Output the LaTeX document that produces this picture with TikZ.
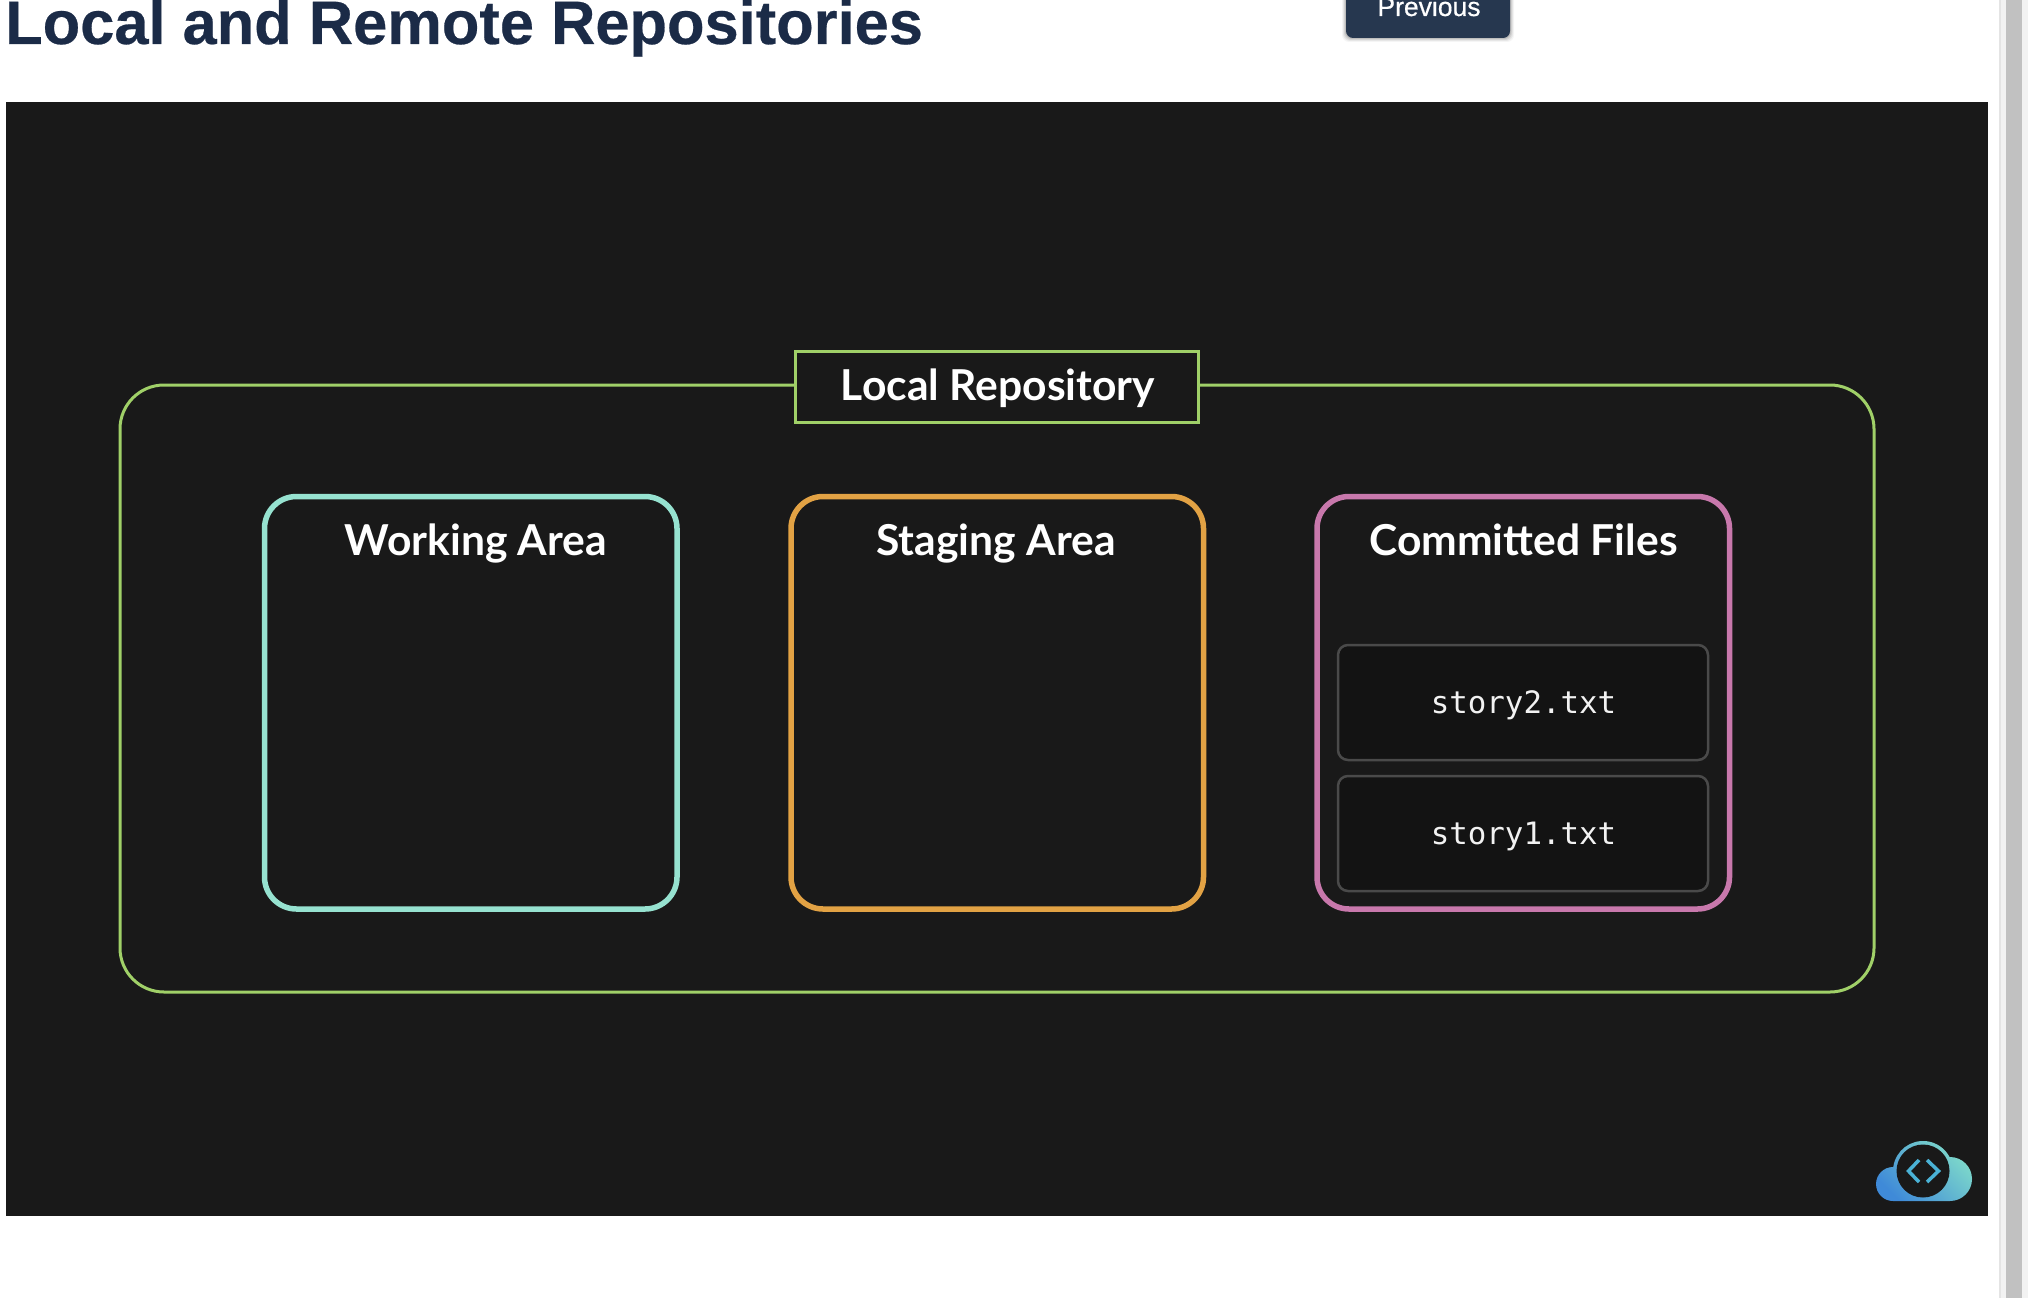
\documentclass[tikz,border=0pt]{standalone}
\usepackage{fontspec}
\setmainfont{Liberation Sans}
\newfontfamily\headfont{Lato}
\newfontfamily\codefont{DejaVu Sans Mono}
\definecolor{panelbg}{HTML}{191919}
\definecolor{filebg}{HTML}{131313}
\definecolor{fileline}{HTML}{4A4A4A}
\definecolor{repogreen}{HTML}{A0D068}
\definecolor{workteal}{HTML}{96E2D0}
\definecolor{stageorange}{HTML}{E2A244}
\definecolor{commitpink}{HTML}{C878AC}
\definecolor{titlenavy}{HTML}{1B2B47}
\definecolor{btnnavy}{HTML}{26374F}
\definecolor{barlight}{HTML}{F2F2F2}
\definecolor{barline}{HTML}{E4E4E4}
\definecolor{bargray}{HTML}{C1C1C1}
\definecolor{logoblue}{HTML}{3F8AD8}
\definecolor{logomid}{HTML}{52B6DC}
\definecolor{logoteal}{HTML}{80DCCA}
\definecolor{logochev}{HTML}{4AB2D6}
\tikzset{
  x=1pt, y=-1pt,
  box/.style={rectangle, inner sep=0pt, outer sep=0pt, anchor=north west},
  outerbox/.style={box, draw=repogreen, line width=3pt, rounded corners=44pt, minimum width=1754pt, minimum height=607pt},
  labelbox/.style={box, draw=repogreen, line width=3pt, fill=panelbg, minimum width=403pt, minimum height=71pt},
  areabox/.style={box, line width=5.5pt, rounded corners=32pt, minimum width=412.5pt, minimum height=412.5pt},
  filebox/.style={box, draw=fileline, line width=2.5pt, fill=filebg, rounded corners=10pt, minimum width=370pt, minimum height=115pt},
  heading/.style={anchor=base, inner sep=0pt, text=white, font=\headfont\bfseries\fontsize{42.6}{42.6}\selectfont},
  code/.style={anchor=base, inner sep=0pt, text=white!95!black, font=\codefont\fontsize{30.8}{30.8}\selectfont},
}
\begin{document}
\begin{tikzpicture}
\useasboundingbox (0,0) rectangle (2028,1298);
\clip (0,0) rectangle (2028,1298);
\fill[white] (0,0) rectangle (2028,1298);
% scrollbar
\fill[barlight] (1999,0) rectangle (2028,1298);
\fill[barline] (1999,0) rectangle (2001,1298);
\fill[bargray] (2006,0) rectangle (2022,1298);
% page title and button
\node[anchor=base west, inner sep=0pt, text=titlenavy, font=\bfseries\fontsize{61.4}{61.4}\selectfont\addfontfeature{FakeBold=0.4}] (title) at (5,44) {Local and Remote Repositories};
\foreach \o/\d in {0.04/4,0.06/3,0.08/2,0.10/1}{
  \fill[black, opacity=\o, rounded corners=7pt] (1346-\d,-20) rectangle (1510+\d,38+\d);
}
\node[box, fill=btnnavy, rounded corners=7pt, minimum width=164pt, minimum height=58pt] (btn) at (1346,-20) {};
\node[anchor=base, inner sep=0pt, text=white, font=\fontsize{26.5}{26.5}\selectfont\addfontfeature{FakeBold=0.5}] (btntext) at (1429,16) {Previous};
% panel
\fill[panelbg] (6,102) rectangle (1988,1216);
\node[outerbox] (repo) at (120,385) {};
\node[labelbox] (repolabel) at (795,351.5) {};
\node[heading] (repotext) at (998,400.5) {Local Repository};
\node[areabox, draw=workteal] (work) at (264.5,496.5) {};
\node[areabox, draw=stageorange] (stage) at (791,496.5) {};
\node[areabox, draw=commitpink] (commit) at (1317,496.5) {};
\node[heading] (worktext) at (476,555.5) {Working Area};
\node[heading] (stagetext) at (996,555.5) {Staging Area};
\node[heading] (committext) at (1523.5,555.5) {Committed Files};
\node[filebox] (story2) at (1338,645) {};
\node[filebox] (story1) at (1338,776) {};
\node[code] (story2text) at (1523.5,713) {story2.txt};
\node[code] (story1text) at (1523.5,844) {story1.txt};
% logo
\path[shading=axis, left color=logoblue, middle color=logomid, right color=logoteal, shading angle=135]
  (1893,1201) arc[start angle=-90, end angle=-270, radius=17pt]
  -- (1893.3,1166.8) arc[start angle=172, end angle=27, radius=30pt]
  -- (1950,1157) arc[start angle=90, end angle=-90, radius=22pt] -- cycle;
\fill[panelbg] (1923,1171) circle[radius=26.5pt];
\draw[logochev, line width=3.5pt] (1919,1160) -- (1908.5,1171) -- (1919,1182);
\draw[logochev, line width=3.5pt] (1927,1160) -- (1938.5,1171) -- (1927,1182);
\end{tikzpicture}
\end{document}
